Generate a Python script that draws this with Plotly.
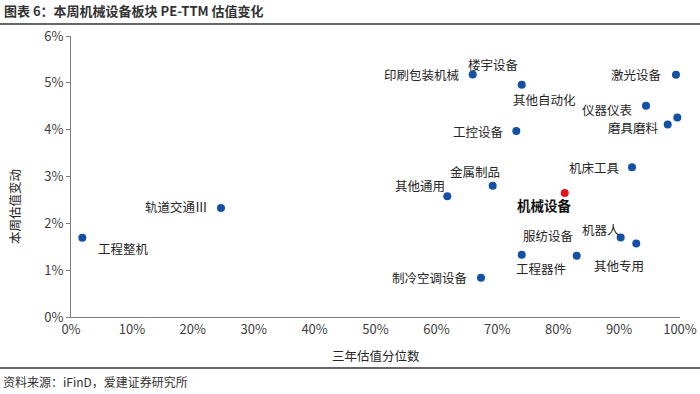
import plotly.graph_objects as go

# Data (percent units)
names = ["工程整机", "轨道交通Ⅲ", "其他通用", "金属制品", "机床工具", "工控设备",
         "其他自动化", "楼宇设备", "激光设备", "仪器仪表", "磨具磨料", "印刷包装机械",
         "服纺设备", "工程器件", "机器人", "其他专用", "制冷空调设备"]
pct_3y = [1.86, 24.63, 61.79, 69.24, 92.12, 73.12,
          74.01, 65.96, 99.34, 94.42, 97.98, 99.56,
          74.01, 83.04, 90.26, 92.82, 67.32]
chg_week = [1.69, 2.33, 2.58, 2.80, 3.20, 3.97,
            4.96, 5.18, 5.17, 4.51, 4.11, 4.26,
            1.33, 1.31, 1.70, 1.57, 0.84]

total_name = "机械设备"
total_pct = 81.07
total_chg = 2.65

x_ticks = [0, 10, 20, 30, 40, 50, 60, 70, 80, 90, 100]
x_tick_text = ["0%", "10%", "20%", "30%", "40%", "50%", "60%", "70%", "80%", "90%", "100%"]
y_ticks = [0, 1, 2, 3, 4, 5, 6]
y_tick_text = ["0%", "1%", "2%", "3%", "4%", "5%", "6%"]

# label offsets in pixels (dx right, dy up)
label_shift = {
    "工程整机": (41, -11), "轨道交通Ⅲ": (-45, 1), "其他通用": (-27, 11),
    "金属制品": (-18, 14), "机床工具": (-38, 0), "工控设备": (-38, 0),
    "其他自动化": (23, -15), "楼宇设备": (21, 10), "激光设备": (-39, 0),
    "仪器仪表": (-39, -4), "磨具磨料": (-34, -3), "印刷包装机械": (-255, 43),
    "服纺设备": (27, 19), "工程器件": (-36, -13), "机器人": (-20, 8),
    "其他专用": (-17, -22), "制冷空调设备": (-51, 0),
}

FONT = "Noto Sans CJK SC, Microsoft YaHei, sans-serif"
BLUE = "#1450A3"
RED = "#E3141B"
TXT = "#262626"

fig = go.Figure()
fig.add_trace(go.Scatter(x=pct_3y, y=chg_week, mode="markers",
                         marker=dict(size=8, color=BLUE), cliponaxis=False,
                         hoverinfo="text", text=names))
fig.add_trace(go.Scatter(x=[total_pct], y=[total_chg], mode="markers",
                         marker=dict(size=8, color=RED), cliponaxis=False,
                         hoverinfo="text", text=[total_name]))

for n, xv, yv in zip(names, pct_3y, chg_week):
    dx, dy = label_shift[n]
    fig.add_annotation(x=xv, y=yv, text=n, showarrow=False, xshift=dx, yshift=dy,
                       xanchor="center", yanchor="middle",
                       font=dict(family=FONT, size=12.5, color=TXT))
fig.add_annotation(x=total_pct, y=total_chg, text="<b>" + total_name + "</b>",
                   showarrow=False, xshift=-20, yshift=-12,
                   xanchor="center", yanchor="middle",
                   font=dict(family=FONT, size=13.5, color="#111111"))

# Title, rules, source
fig.add_annotation(xref="paper", yref="paper", x=-69/609, y=1 + 25/281,
                   text="<b>图表 6：本周机械设备板块 PE-TTM 估值变化</b>",
                   showarrow=False, xanchor="left", yanchor="middle",
                   font=dict(family=FONT, size=13, color="#333333"))
fig.add_shape(type="line", xref="paper", yref="paper", x0=-71/609, x1=1 + 20/609,
              y0=1 + 12/281, y1=1 + 12/281, line=dict(color="#333333", width=1.5))
fig.add_shape(type="line", xref="paper", yref="paper", x0=-71/609, x1=1 + 20/609,
              y0=-51/281, y1=-51/281, line=dict(color="#333333", width=1.5))
fig.add_annotation(xref="paper", yref="paper", x=-70/609, y=-64/281,
                   text="资料来源：iFinD，爱建证券研究所",
                   showarrow=False, xanchor="left", yanchor="middle",
                   font=dict(family=FONT, size=12, color="#333333"))
# axis titles
fig.add_annotation(xref="paper", yref="paper", x=0.5, y=-39/281,
                   text="三年估值分位数", showarrow=False,
                   xanchor="center", yanchor="middle",
                   font=dict(family=FONT, size=12.5, color=TXT))
fig.add_annotation(xref="paper", yref="paper", x=-56/609, y=(317-207)/281,
                   text="本周估值变动", showarrow=False, textangle=-90,
                   xanchor="center", yanchor="middle",
                   font=dict(family=FONT, size=12.5, color=TXT))

fig.update_layout(
    width=700, height=394,
    autosize=False,
    margin=dict(l=71, r=20, t=36, b=77, autoexpand=False),
    paper_bgcolor="white", plot_bgcolor="white",
    showlegend=False,
    font=dict(family=FONT, color="#404040", size=13),
    xaxis=dict(range=[0, 100], tickmode="array", tickvals=x_ticks, ticktext=x_tick_text,
               showgrid=False, zeroline=False, showline=True, automargin=False,
               linecolor="#7f7f7f", linewidth=1, ticks="", ticklen=0,
               tickfont=dict(size=13, color="#404040")),
    yaxis=dict(range=[0, 6], tickmode="array", tickvals=y_ticks, ticktext=y_tick_text,
               showgrid=False, zeroline=False, showline=True, automargin=False,
               linecolor="#7f7f7f", linewidth=1, ticks="outside", ticklen=4,
               tickcolor="#7f7f7f",
               tickfont=dict(size=13, color="#404040")),
)

fig.write_html("out.html",
               config={"displayModeBar": False, "responsive": False},
               post_script="document.body.style.margin='0';document.body.style.padding='0';")
